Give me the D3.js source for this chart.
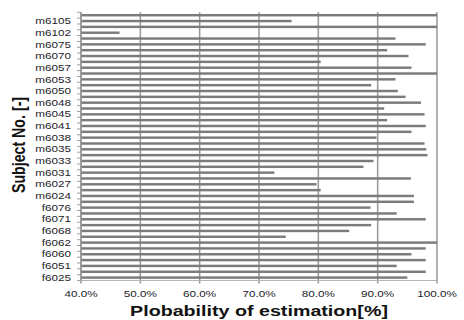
<!DOCTYPE html>
<html>
<head>
<meta charset="utf-8">
<script src="https://cdn.jsdelivr.net/npm/d3@7"></script>
<style>
  html, body { margin: 0; padding: 0; background: #fff; }
  svg { display: block; }
  text { font-family: "Liberation Sans", Arial, sans-serif; }
</style>
</head>
<body>
<svg id="chart" width="464" height="320"></svg>
<script>
// Subjects listed from top to bottom; only every other subject carries a visible label.
const subjectLabels = [
  "", "m6105", "", "m6102", "", "m6075", "", "m6070", "", "m6057",
  "", "m6053", "", "m6050", "", "m6048", "", "m6045", "", "m6041",
  "", "m6038", "", "m6035", "", "m6033", "", "m6031", "", "m6027",
  "", "m6024", "", "f6076", "", "f6071", "", "f6068", "", "f6062",
  "", "f6060", "", "f6051", "", "f6025"
];

// Probability of estimation [%] per subject, same order as above.
const probability = [
  100.0, 75.5, 100.0, 46.5, 93.0, 98.1, 91.6, 95.2, 80.4, 95.7,
  100.0, 93.0, 88.9, 93.4, 94.7, 97.3, 91.1, 97.9, 91.6, 98.1,
  95.7, 89.8, 97.9, 98.2, 98.4, 89.3, 87.6, 72.6, 95.6, 79.7,
  80.4, 96.1, 96.1, 88.8, 93.2, 98.1, 88.9, 85.2, 74.5, 100.0,
  98.1, 95.7, 98.1, 93.2, 98.1, 95.0
];

const xTicks = [40, 50, 60, 70, 80, 90, 100];

const svg = d3.select("#chart");
const plot = { left: 81, right: 437, top: 12.3, bottom: 280.5 };
// text in this figure is set wide: glyphs are stretched horizontally
const stretch = 1.3;

const x = d3.scaleLinear().domain([40, 100]).range([plot.left, plot.right]);
const y = d3.scaleBand()
  .domain(d3.range(probability.length))
  .range([plot.top, plot.bottom])
  .paddingInner(0.58)
  .paddingOuter(0.29);

// vertical gridlines (the 100% line doubles as the right border)
svg.append("g")
  .selectAll("line")
  .data(xTicks)
  .join("line")
  .attr("x1", d => x(d)).attr("x2", d => x(d))
  .attr("y1", plot.top).attr("y2", plot.bottom + 3)
  .attr("stroke", "#979797")
  .attr("stroke-width", 1.5);

// bottom axis line
svg.append("line")
  .attr("x1", plot.left).attr("x2", plot.right)
  .attr("y1", plot.bottom).attr("y2", plot.bottom)
  .attr("stroke", "#b5b5b5")
  .attr("stroke-width", 1.2);

// bars
svg.append("g")
  .selectAll("rect")
  .data(probability)
  .join("rect")
  .attr("x", x(40))
  .attr("y", (d, i) => y(i))
  .attr("width", d => x(d) - x(40))
  .attr("height", y.bandwidth())
  .attr("fill", "#7b7b7b");

// left category axis
const step = y.step();
svg.append("line")
  .attr("x1", plot.left).attr("x2", plot.left)
  .attr("y1", plot.top).attr("y2", plot.bottom)
  .attr("stroke", "#979797")
  .attr("stroke-width", 1.5);

svg.append("g")
  .selectAll("line")
  .data(d3.range(probability.length + 1))
  .join("line")
  .attr("x1", plot.left - 4).attr("x2", plot.left)
  .attr("y1", i => plot.top + i * step).attr("y2", i => plot.top + i * step)
  .attr("stroke", "#a0a0a0")
  .attr("stroke-width", 1);

svg.append("g")
  .selectAll("text")
  .data(subjectLabels.map((s, i) => ({ s, i })).filter(d => d.s))
  .join("text")
  .attr("transform", d => `translate(71,${y(d.i) + y.bandwidth() / 2}) scale(${stretch},1)`)
  .attr("dy", "0.35em")
  .attr("text-anchor", "end")
  .attr("font-size", 9)
  .attr("fill", "#1c1c2a")
  .text(d => d.s);

// x tick labels
svg.append("g")
  .selectAll("text")
  .data(xTicks)
  .join("text")
  .attr("transform", d => `translate(${x(d)},297) scale(${stretch},1)`)
  .attr("text-anchor", "middle")
  .attr("font-size", 9)
  .attr("fill", "#1c1c2a")
  .text(d => d3.format(".1f")(d) + "%");

// axis titles
svg.append("text")
  .attr("transform", `translate(259,316) scale(1.27,1)`)
  .attr("text-anchor", "middle")
  .attr("font-size", 15.5)
  .attr("font-weight", "bold")
  .attr("fill", "#111")
  .text("Plobability of estimation[%]");

svg.append("text")
  .attr("transform", `translate(25,145) rotate(-90) scale(1,${stretch})`)
  .attr("text-anchor", "middle")
  .attr("font-size", 14.2)
  .attr("font-weight", "bold")
  .attr("fill", "#111")
  .text("Subject No. [-]");
</script>
</body>
</html>
